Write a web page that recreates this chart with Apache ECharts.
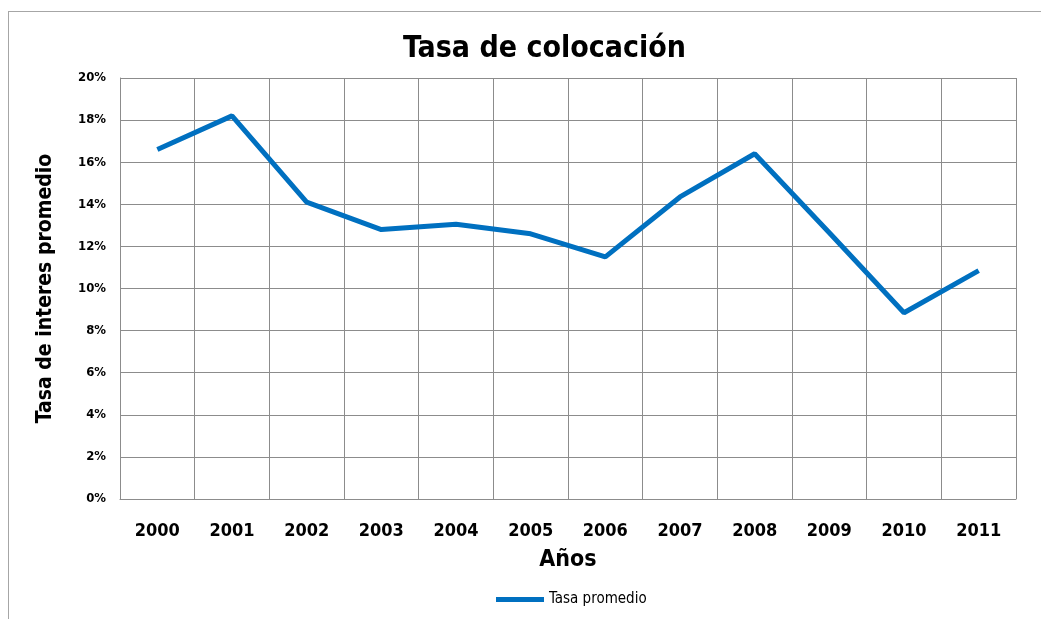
<!DOCTYPE html>
<html>
<head>
<meta charset="utf-8">
<script src="https://cdn.jsdelivr.net/npm/echarts@6/dist/echarts.min.js"></script>
<style>
  html, body { margin: 0; padding: 0; background: #fff; }
  #frame { position: absolute; left: 8px; top: 11px; width: 1100px; height: 700px; border: 1px solid #a6a6a6; }
  #chart { position: absolute; left: 0; top: 0; width: 1041px; height: 619px; }
</style>
</head>
<body>
<div id="frame"></div>
<div id="chart"></div>
<script>
// datos
var anios = ['2000', '2001', '2002', '2003', '2004', '2005', '2006', '2007', '2008', '2009', '2010', '2011'];
var tasaPromedio = [16.6, 18.2, 14.1, 12.8, 13.05, 12.6, 11.5, 14.35, 16.4, 12.65, 8.85, 10.85];

var fuente = '"Liberation Sans Narrow", "DejaVu Sans Condensed", sans-serif';

var myChart = echarts.init(document.getElementById('chart'));
var option = {
    animation: false,
    title: {
        text: 'Tasa de colocación',
        left: 398,
        top: 29,
        textStyle: { fontFamily: fuente, fontSize: 30, fontWeight: 'bold', color: '#000' }
    },
    legend: {
        bottom: 7,
        left: 491,
        icon: 'rect',
        itemWidth: 48,
        itemHeight: 5,
        itemGap: 4,
        textStyle: { fontFamily: fuente, fontSize: 15, color: '#000' },
        data: ['Tasa promedio']
    },
    grid: { left: 120, right: 25, top: 78, bottom: 120, containLabel: false },
    xAxis: {
        type: 'category',
        data: anios,
        boundaryGap: true,
        name: 'Años',
        nameLocation: 'middle',
        nameGap: 50,
        nameTextStyle: { fontFamily: fuente, fontSize: 23, fontWeight: 'bold', color: '#000' },
        axisLine: { lineStyle: { color: '#8c8c8c', width: 1 } },
        axisTick: { show: false },
        axisLabel: { margin: 23, fontFamily: fuente, fontSize: 18, fontWeight: 'bold', color: '#000' },
        splitLine: { show: true, lineStyle: { color: '#8c8c8c', width: 1 } }
    },
    yAxis: {
        type: 'value',
        min: 0,
        max: 20,
        interval: 2,
        name: 'Tasa de interes promedio',
        nameLocation: 'middle',
        nameGap: 64,
        nameRotate: 90,
        nameTextStyle: { fontFamily: fuente, fontSize: 21, fontWeight: 'bold', color: '#000' },
        axisLine: { show: true, lineStyle: { color: '#8c8c8c', width: 1 } },
        axisTick: { show: false },
        axisLabel: { formatter: '{value}%', margin: 14, fontFamily: fuente, fontSize: 13, fontWeight: 'bold', color: '#000' },
        splitLine: { show: true, lineStyle: { color: '#8c8c8c', width: 1 } }
    },
    series: [{
        name: 'Tasa promedio',
        type: 'line',
        data: tasaPromedio,
        showSymbol: false,
        symbol: 'none',
        lineStyle: { color: '#0070C0', width: 5 },
        itemStyle: { color: '#0070C0' }
    }]
};
myChart.setOption(option);
</script>
</body>
</html>
